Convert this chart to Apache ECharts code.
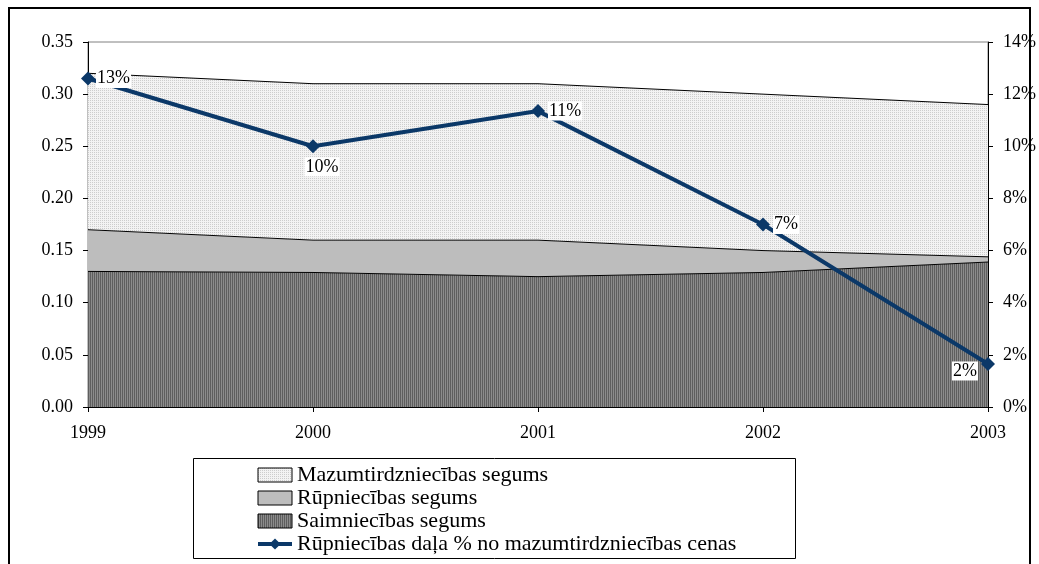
<!DOCTYPE html>
<html>
<head>
<meta charset="utf-8">
<script src="https://cdn.jsdelivr.net/npm/echarts@6/dist/echarts.min.js"></script>
<style>
  html, body { margin: 0; padding: 0; background: #fff; }
  #chart { width: 1039px; height: 564px; }
</style>
</head>
<body>
<div id="chart"></div>
<script>
const years = ['1999', '2000', '2001', '2002', '2003']
const saimniecibas = [0.130, 0.129, 0.125, 0.129, 0.139]
const rupniecibas = [0.040, 0.031, 0.035, 0.021, 0.005]
const mazumtirdzniecibas = [0.150, 0.150, 0.150, 0.150, 0.146]
const dalaPct = [12.6, 10.0, 11.35, 7.0, 1.65]

const names = [
  'Mazumtirdzniecības segums',
  'Rūpniecības segums',
  'Saimniecības segums',
  'Rūpniecības daļa % no mazumtirdzniecības cenas'
]

const font = '"Liberation Serif", "Times New Roman", serif'
const navy = '#0b3868'

// fill patterns like the old office chart
function dotPattern() {
  const c = document.createElement('canvas')
  c.width = 2; c.height = 2
  const g = c.getContext('2d')
  g.fillStyle = '#f3f3f3'; g.fillRect(0, 0, 2, 2)
  g.fillStyle = '#cdcdcd'; g.fillRect(0, 0, 1, 1)
  return { image: c, repeat: 'repeat' }
}
function stripePattern() {
  const c = document.createElement('canvas')
  c.width = 2; c.height = 2
  const g = c.getContext('2d')
  g.fillStyle = '#5e5e5e'; g.fillRect(0, 0, 1, 2)
  g.fillStyle = '#8c8c8c'; g.fillRect(1, 0, 1, 2)
  return { image: c, repeat: 'repeat' }
}
const dots = dotPattern()
const stripes = stripePattern()

const labelPos = [
  { position: 'right', offset: [-4, 0] },
  { position: 'bottom', offset: [9, -1] },
  { position: 'right', offset: [-2, 0] },
  { position: 'right', offset: [-2, 0] },
  { position: 'left', offset: [2, 7] }
]

const chart = echarts.init(document.getElementById('chart'))

const areaSeries = (name, data, color) => ({
  name,
  type: 'line',
  stack: 'total',
  data,
  showSymbol: false,
  silent: true,
  lineStyle: { color: '#000', width: 1 },
  itemStyle: { color },
  areaStyle: { color, opacity: 1 },
  z: 2
})

chart.setOption({
  animation: false,
  textStyle: { fontFamily: font },
  grid: {
    left: 88, right: 48, top: 42, bottom: 157,
    show: true, borderColor: '#808080', borderWidth: 1
  },
  graphic: [
    {
      type: 'rect',
      z: 100,
      shape: { x: 9, y: 8, width: 1021, height: 600 },
      style: { fill: 'none', stroke: '#000', lineWidth: 2 },
      silent: true
    },
    {
      type: 'rect',
      z: 100,
      shape: { x: 193.5, y: 458.5, width: 602, height: 100 },
      style: { fill: 'none', stroke: '#000', lineWidth: 1 },
      silent: true
    }
  ],
  legend: {
    orient: 'vertical',
    left: 256,
    top: 464,
    itemGap: 1,
    itemWidth: 34,
    itemHeight: 14,
    padding: 0,
    textStyle: { fontFamily: font, fontSize: 22, color: '#000' },
    data: [
      { name: names[0], icon: 'rect', itemStyle: { borderColor: '#000', borderWidth: 1 } },
      { name: names[1], icon: 'rect', itemStyle: { borderColor: '#000', borderWidth: 1 } },
      { name: names[2], icon: 'rect', itemStyle: { borderColor: '#000', borderWidth: 1 } },
      { name: names[3], lineStyle: { width: 4 } }
    ]
  },
  xAxis: {
    type: 'category',
    data: years,
    boundaryGap: false,
    axisLine: { lineStyle: { color: '#000', width: 1 } },
    axisTick: { show: true, length: 5, lineStyle: { color: '#000' } },
    axisLabel: { color: '#000', fontSize: 18, fontFamily: font, margin: 17 },
    splitLine: { show: false }
  },
  yAxis: [
    {
      type: 'value',
      min: 0, max: 0.35, interval: 0.05,
      axisLine: { show: true, lineStyle: { color: '#000' } },
      axisTick: { show: true, length: 5, lineStyle: { color: '#000' } },
      axisLabel: {
        color: '#000', fontSize: 18, fontFamily: font, margin: 15,
        formatter: v => v.toFixed(2)
      },
      splitLine: { show: false }
    },
    {
      type: 'value',
      min: 0, max: 14, interval: 2,
      position: 'right',
      axisLine: { show: true, lineStyle: { color: '#000' } },
      axisTick: { show: true, length: 5, lineStyle: { color: '#000' } },
      axisLabel: { color: '#000', fontSize: 18, fontFamily: font, margin: 15, formatter: '{value}%' },
      splitLine: { show: false }
    }
  ],
  series: [
    areaSeries(names[2], saimniecibas, stripes),
    areaSeries(names[1], rupniecibas, '#bdbdbd'),
    areaSeries(names[0], mazumtirdzniecibas, dots),
    {
      name: names[3],
      type: 'line',
      yAxisIndex: 1,
      data: dalaPct.map((v, i) => ({ value: v, label: labelPos[i] })),
      symbol: 'diamond',
      symbolSize: 14,
      lineStyle: { color: navy, width: 4 },
      itemStyle: { color: navy },
      label: {
        show: true,
        color: '#000',
        fontSize: 18,
        fontFamily: font,
        backgroundColor: '#fff',
        padding: [1, 1, 0, 1],
        formatter: p => Math.round(p.value) + '%'
      },
      z: 5
    }
  ]
})
</script>
</body>
</html>
